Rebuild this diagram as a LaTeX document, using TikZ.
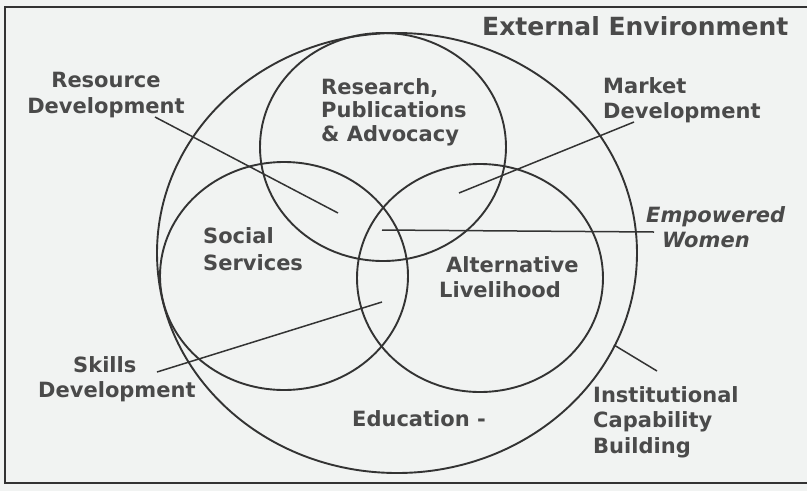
\documentclass[tikz,border=0pt]{standalone}
\usepackage{fontspec}
\setmainfont{DejaVu Sans}
\definecolor{paper}{HTML}{F1F3F2}
\definecolor{ink}{HTML}{333333}
\definecolor{lettering}{HTML}{4A4A4A}
\begin{document}
\begin{tikzpicture}[x=1pt,y=-1pt,
  ring/.style={draw=ink, line width=1.9pt},
  leader/.style={draw=ink, line width=1.5pt},
  lbl/.style={text=lettering, font=\fontsize{21}{25}\selectfont\bfseries, inner sep=0pt, anchor=base west},
  ilbl/.style={lbl, font=\fontsize{21}{25}\selectfont\bfseries\itshape},
  title/.style={lbl, font=\fontsize{25}{30}\selectfont\bfseries},
]
\clip (0,0) rectangle (807,491);
\fill[paper] (0,0) rectangle (807,491);
% frame
\draw[ink, line width=2pt] (5,7) rectangle (830,483);

% environment and the three domains
\draw[ring] (397,253) ellipse [x radius=240pt, y radius=220pt];
\draw[ring] (383,147) ellipse [x radius=123pt, y radius=114pt];
\draw[ring] (284,276) ellipse [x radius=124pt, y radius=114pt];
\draw[ring] (480,278) ellipse [x radius=123pt, y radius=114pt];

% labels
\node[title] (env) at (482,35) {External Environment};
\node[lbl, anchor=base] (res1) at (106,87) {Resource};
\node[lbl, anchor=base] (res2) at (106,113) {Development};
\node[lbl] (rpa1) at (321,94) {Research,};
\node[lbl] (rpa2) at (321,117) {Publications};
\node[lbl] (rpa3) at (321,141) {\& Advocacy};
\node[lbl] (mkt1) at (603,93) {Market};
\node[lbl] (mkt2) at (603,118) {Development};
\node[ilbl] (emp1) at (646,222) {Empowered};
\node[ilbl] (emp2) at (662,247) {Women};
\node[lbl] (soc1) at (203,243) {Social};
\node[lbl] (soc2) at (203,270) {Services};
\node[lbl] (alt1) at (446,272) {Alternative};
\node[lbl] (alt2) at (439,297) {Livelihood};
\node[lbl] (skl1) at (73,372) {Skills};
\node[lbl] (skl2) at (38,397) {Development};
\node[lbl] (edu) at (352,426) {Education -};
\node[lbl] (icb1) at (593,402) {Institutional};
\node[lbl] (icb2) at (593,427) {Capability};
\node[lbl] (icb3) at (593,453) {Building};

% leader line end points
\coordinate (resA) at (155,117);  \coordinate (resB) at (338,213);
\coordinate (mktA) at (634,122);  \coordinate (mktB) at (459,193);
\coordinate (empA) at (654,232);  \coordinate (empB) at (382,230);
\coordinate (sklA) at (157,372);  \coordinate (sklB) at (382,302);
\coordinate (icbA) at (657,371);  \coordinate (icbB) at (614,345);

\draw[leader] (resA) -- (resB);
\draw[leader] (mktA) -- (mktB);
\draw[leader] (empA) -- (empB);
\draw[leader] (sklA) -- (sklB);
\draw[leader] (icbA) -- (icbB);
\end{tikzpicture}
\end{document}
